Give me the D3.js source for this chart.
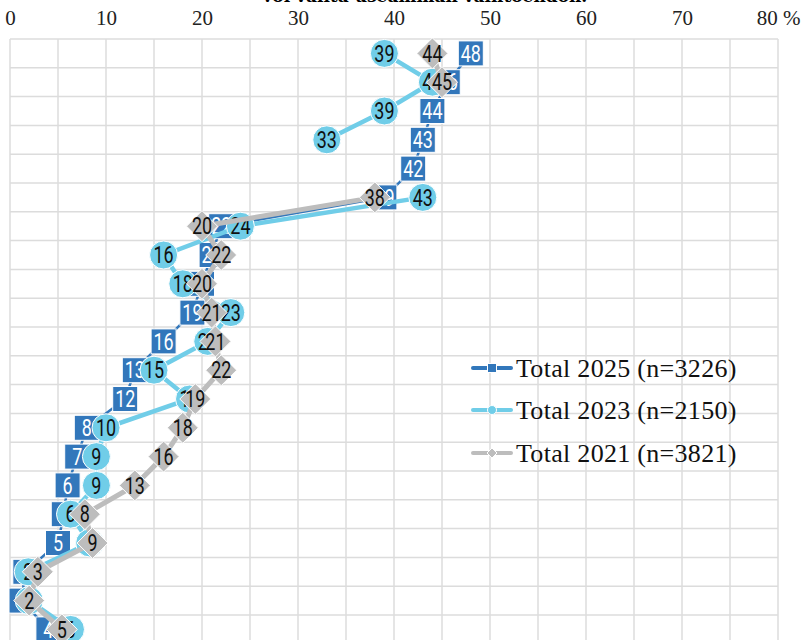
<!DOCTYPE html>
<html>
<head>
<meta charset="utf-8">
<script src="https://cdn.jsdelivr.net/npm/d3@7"></script>
<style>
  body { margin: 0; background: #fff; }
  svg { display: block; }
</style>
</head>
<body>
<div id="chart"></div>
<script>
// Rows of the chart (category labels are cut off in the original)
var rowIds = d3.range(1, 22).map(String);

var total2025 = [48, 45.6, 44, 43, 42, 39, 22, 21, 20, 19, 16, 13, 12, 8, 7, 6, 5.6, 5, 1.6, 1.2, 4];
var total2023 = [39, 44, 39, 33, null, 43, 24, 16, 18, 23, 20.6, 15, 18.7, 10, 9, 9, 6.3, 8.3, 1.9, 2, 6.3];
var total2021 = [44, 45, null, null, null, 38, 20, 22, 20, 21, 21.4, 22, 19.3, 18, 16, 13, 7.8, 8.6, 2.9, 2, 5.4];

var seriesNames = ["Total 2025 (n=3226)", "Total 2023 (n=2150)", "Total 2021 (n=3821)"];
var xTicks = [0, 10, 20, 30, 40, 50, 60, 70, 80];

var width = 805, height = 640;
var plotLeft = 10, plotRight = 778, plotTop = 39, rowH = 28.8;

var svg = d3.select("#chart").append("svg")
    .attr("width", width)
    .attr("height", height);

var x = d3.scaleLinear().domain([0, 80]).range([plotLeft, plotRight]);

var y = d3.scaleBand()
    .domain(rowIds)
    .range([plotTop, plotTop + rowIds.length * rowH])
    .paddingInner(0).paddingOuter(0);

// cut-off title at the very top
svg.append("text")
    .attr("x", 424)
    .attr("y", 2)
    .attr("text-anchor", "middle")
    .style("font-family", "'DejaVu Serif', 'Liberation Serif', serif")
    .style("font-size", "17px")
    .style("font-weight", "bold")
    .text("Voi valita useamman vaihtoehdon.");

// grid
var grid = svg.append("g").attr("class", "grid");
grid.selectAll(".vline")
    .data(d3.range(0, 81, 5))
    .enter().append("line")
    .attr("x1", function(d) { return x(d); })
    .attr("x2", function(d) { return x(d); })
    .attr("y1", y.range()[0])
    .attr("y2", y.range()[1])
    .attr("stroke", "#dcdcdc")
    .attr("stroke-width", 1.5);

grid.selectAll(".hline")
    .data(d3.range(0, rowIds.length + 1))
    .enter().append("line")
    .attr("x1", plotLeft)
    .attr("x2", plotRight)
    .attr("y1", function(i) { return plotTop + i * rowH; })
    .attr("y2", function(i) { return plotTop + i * rowH; })
    .attr("stroke", "#dcdcdc")
    .attr("stroke-width", 1.5);

// top axis
var xAxis = d3.axisTop(x)
    .tickValues(xTicks)
    .tickSize(0)
    .tickPadding(0)
    .tickFormat(function(d) { return d === 80 ? "80 %" : d; });

var axisG = svg.append("g")
    .attr("transform", "translate(0,25)")
    .call(xAxis);
axisG.select(".domain").remove();
axisG.selectAll("text")
    .style("font-family", "'Liberation Serif', 'DejaVu Serif', serif")
    .style("font-size", "21px")
    .attr("fill", "#222");

var series = [
  { name: seriesNames[0], values: total2025, color: "#3277bb", lineW: 2.5, shape: "square", labelColor: "#fff" },
  { name: seriesNames[1], values: total2023, color: "#70cde8", lineW: 4.5, shape: "circle", labelColor: "#111" },
  { name: seriesNames[2], values: total2021, color: "#bdbdbd", lineW: 5, shape: "diamond", labelColor: "#111" }
];

function yc(i) { return y(rowIds[i]) + y.bandwidth() / 2; }

function drawMarker(g, shape, color, size) {
  if (shape === "square") {
    g.append("rect")
      .attr("x", -size).attr("y", -size)
      .attr("width", size * 2).attr("height", size * 2)
      .attr("fill", color).attr("stroke", "#fff").attr("stroke-width", 1);
  } else if (shape === "circle") {
    g.append("circle")
      .attr("r", size)
      .attr("fill", color).attr("stroke", "#fff").attr("stroke-width", 1);
  } else {
    g.append("path")
      .attr("d", "M0," + (-size) + "L" + size + ",0L0," + size + "L" + (-size) + ",0Z")
      .attr("fill", color).attr("stroke", "#fff").attr("stroke-width", 1);
  }
}

var markerSize = { square: 12.5, circle: 14, diamond: 15.5 };

series.forEach(function(s) {
  var pts = s.values.map(function(v, i) { return { v: v, i: i }; });
  var line = d3.line()
      .defined(function(d) { return d.v !== null; })
      .x(function(d) { return x(d.v); })
      .y(function(d) { return yc(d.i); });

  var g = svg.append("g").attr("class", "series");
  g.append("path")
      .datum(pts)
      .attr("d", line)
      .attr("fill", "none")
      .attr("stroke", s.color)
      .attr("stroke-width", s.lineW);

  var marks = g.selectAll(".mark")
      .data(pts.filter(function(d) { return d.v !== null; }))
      .enter().append("g")
      .attr("transform", function(d) { return "translate(" + x(d.v) + "," + yc(d.i) + ")"; });

  marks.each(function() { drawMarker(d3.select(this), s.shape, s.color, markerSize[s.shape]); });

  marks.append("text")
      .attr("transform", "scale(0.78,1)")
      .attr("text-anchor", "middle")
      .attr("dy", "0.36em")
      .style("font-family", "Roboto, 'Liberation Sans', sans-serif")
      .style("font-size", "23px")
      .attr("fill", s.labelColor)
      .text(function(d) { return Math.round(d.v); });
});

// legend
var legend = svg.append("g").attr("transform", "translate(473,0)");
var legendY = [368, 410, 453];
series.forEach(function(s, k) {
  var lg = legend.append("g").attr("transform", "translate(0," + legendY[k] + ")");
  lg.append("line")
    .attr("x1", 0).attr("x2", 38)
    .attr("stroke", s.color)
    .attr("stroke-width", 4)
    .attr("stroke-linecap", "round");
  var m = lg.append("g").attr("transform", "translate(19,0)");
  drawMarker(m, s.shape, s.color, s.shape === "diamond" ? 5 : 4.5);
  lg.append("text")
    .attr("x", 43)
    .attr("dy", "0.35em")
    .style("font-family", "'Liberation Serif', 'DejaVu Serif', serif")
    .style("font-size", "26px")
    .style("letter-spacing", "0.3px")
    .attr("fill", "#111")
    .text(s.name);
});
</script>
</body>
</html>
